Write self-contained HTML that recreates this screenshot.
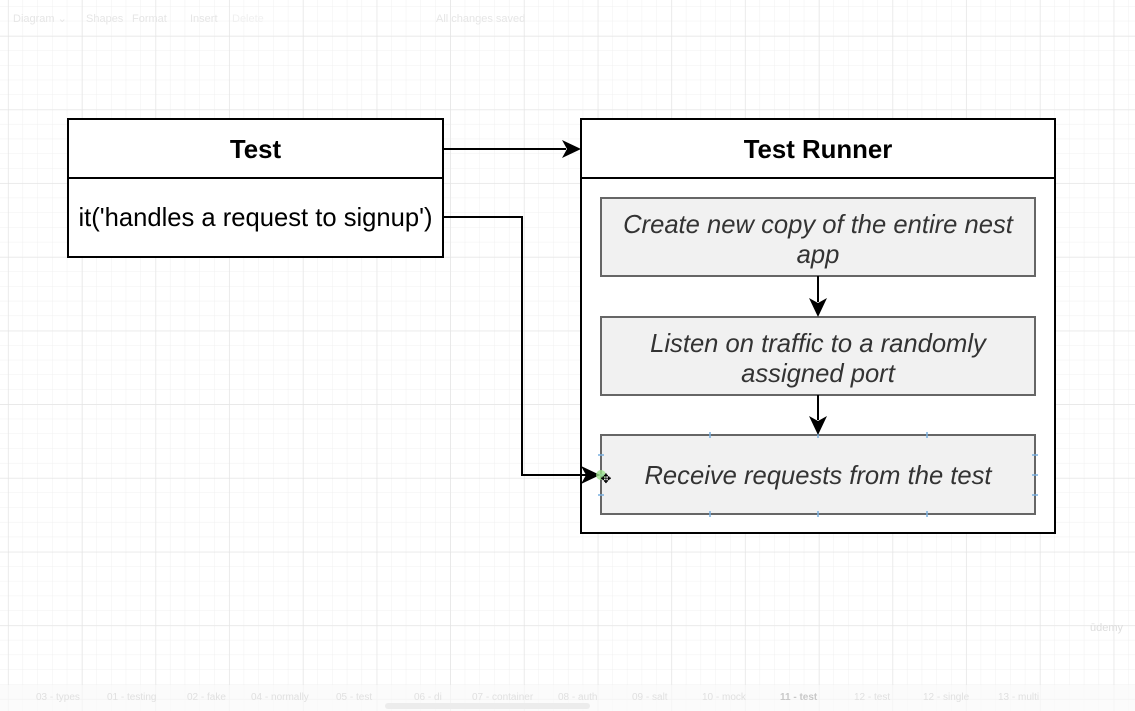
<!DOCTYPE html>
<html><head><meta charset="utf-8"><style>
html,body{margin:0;padding:0;width:1135px;height:711px;overflow:hidden;background:#fff;font-family:"Liberation Sans",sans-serif}
</style></head><body>
<svg width="1135" height="711" xmlns="http://www.w3.org/2000/svg" font-family="Liberation Sans, sans-serif">
<defs>
<pattern id="mi" width="14.74" height="14.74" patternUnits="userSpaceOnUse" x="8.3" y="36">
<path d="M14.74 0V14.74M0 14.74H14.74" stroke="#f0f0f0" stroke-width="1" fill="none"/></pattern>
<pattern id="ma" width="73.7" height="73.7" patternUnits="userSpaceOnUse" x="8.3" y="36">
<path d="M0 0V73.7M0 0H73.7" stroke="#e2e2e2" stroke-width="1" fill="none"/></pattern>
</defs>
<rect width="1135" height="711" fill="url(#mi)"/>
<rect width="1135" height="711" fill="url(#ma)"/>
<g fill="#e6e6e6" font-size="11">
<text x="13" y="22">Diagram ⌄</text><text x="86" y="22">Shapes</text><text x="132" y="22">Format</text>
<text x="190" y="22">Insert</text><text x="232" y="22" fill="#f0f0f0">Delete</text>
<text x="436" y="22">All changes saved</text></g>
<rect x="0" y="685" width="1135" height="26" fill="#fafafa" opacity="0.7"/>
<g fill="#e0e0e0" font-size="10">
<text x="36" y="700">03 - types</text><text x="107" y="700">01 - testing</text><text x="187" y="700">02 - fake</text>
<text x="251" y="700">04 - normally</text><text x="336" y="700">05 - test</text><text x="414" y="700">06 - di</text>
<text x="472" y="700">07 - container</text><text x="558" y="700">08 - auth</text><text x="632" y="700">09 - salt</text>
<text x="702" y="700">10 - mock</text><text x="780" y="700" fill="#c8c8c8" font-weight="bold">11 - test</text>
<text x="854" y="700">12 - test</text><text x="923" y="700">12 - single</text><text x="998" y="700">13 - multi</text>
</g>
<rect x="385" y="703" width="205" height="6" rx="3" fill="#ececec"/>
<text x="1090" y="631" font-size="11" fill="#ddd">ūdemy</text>

<rect x="68" y="119" width="375" height="138" fill="#fff" stroke="#000" stroke-width="2"/>
<line x1="68" y1="178" x2="443" y2="178" stroke="#000" stroke-width="2"/>
<text x="255.5" y="158" font-size="25.8" font-weight="bold" text-anchor="middle">Test</text>
<text x="255.5" y="226" font-size="25.6" text-anchor="middle">it('handles a request to signup')</text>

<rect x="581" y="119" width="474" height="414" fill="#fff" stroke="#000" stroke-width="2"/>
<line x1="581" y1="178" x2="1055" y2="178" stroke="#000" stroke-width="2"/>
<text x="818" y="158" font-size="25.8" font-weight="bold" text-anchor="middle">Test Runner</text>

<g fill="#f1f1f1" stroke="#666" stroke-width="2">
<rect x="601" y="198" width="434" height="78"/>
<rect x="601" y="317" width="434" height="78"/>
<rect x="601" y="435" width="434" height="79"/>
</g>
<g font-size="25.6" font-style="italic" fill="#333" text-anchor="middle">
<text x="818" y="233">Create new copy of the entire nest</text>
<text x="818" y="263">app</text>
<text x="818" y="352">Listen on traffic to a randomly</text>
<text x="818" y="382">assigned port</text>
<text x="818" y="484">Receive requests from the test</text>
</g>
<g stroke="#7ab0e0" stroke-width="1.5">
<path d="M710 432v6M818 432v6M927 432v6M710 511v6M818 511v6M927 511v6M598 455h6M598 475h6M598 495h6M1032 455h6M1032 475h6M1032 495h6"/>
</g>

<g stroke="#000" stroke-width="2" fill="none">
<line x1="443" y1="149" x2="566" y2="149"/>
<polyline points="443,217 522,217 522,475 586,475"/>
<line x1="818" y1="276" x2="818" y2="302"/>
<line x1="818" y1="395" x2="818" y2="420"/>
</g>
<g fill="#000">
<path d="M581 149 L562 140 L567 149 L562 158Z"/>
<path d="M600 475 L581 466 L586 475 L581 484Z"/>
<path d="M818 317 L809 298 L818 303 L827 298Z"/>
<path d="M818 435 L809 416 L818 421 L827 416Z"/>
</g>
<circle cx="601" cy="475" r="5" fill="#9be08a" opacity="0.8"/>
<text x="606" y="483" font-size="13" text-anchor="middle">✥</text>
</svg>
</body></html>
